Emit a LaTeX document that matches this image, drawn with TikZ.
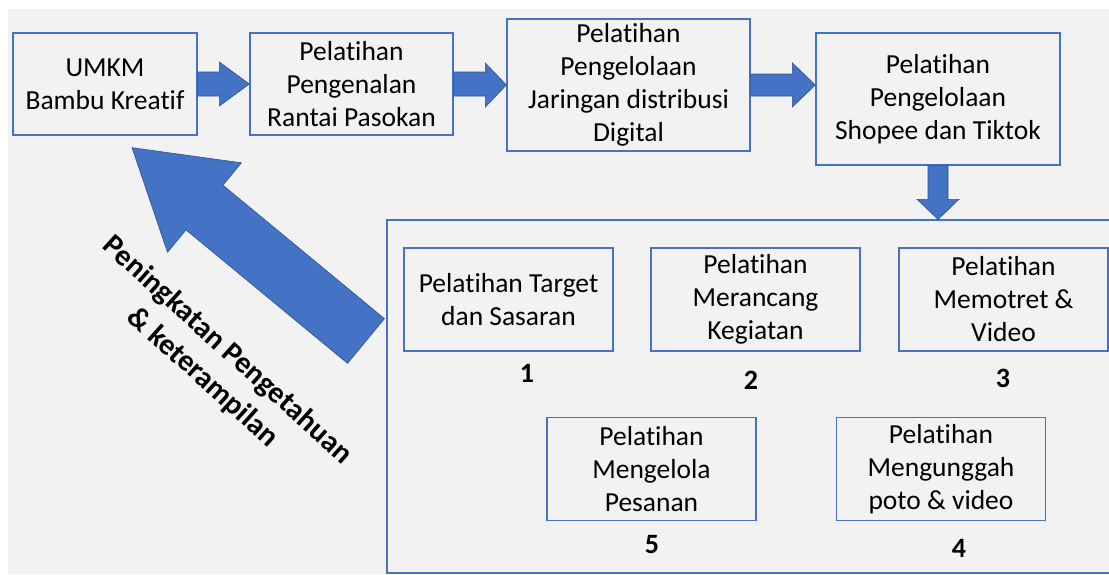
\documentclass[tikz,border=0pt]{standalone}
\usepackage{fontspec}
\setmainfont{Carlito}[Ligatures=NoCommon]
\usetikzlibrary{calc}
\definecolor{biru}{HTML}{4472C4}
\definecolor{birutua}{HTML}{2F528F}
\definecolor{latar}{HTML}{F2F2F2}

\begin{document}
\begin{tikzpicture}[x=1pt, y=-1pt,
  kotak/.style={rectangle, draw=biru, line width=1.3pt, inner sep=0pt,
    align=center, font=\fontsize{27.5}{33}\selectfont},
  atas/.style={kotak, minimum height=102pt},
  pel/.style={kotak, minimum width=209pt, minimum height=103pt},
  nomor/.style={font=\fontsize{28}{30}\selectfont\bfseries},
  panah/.style={fill=biru, draw=birutua, line width=0.6pt},
]

% Background
\useasboundingbox (0,0) rectangle (1109,574);
\fill[latar] (8,9) rectangle (1109,574);

% Top row
\node[atas, minimum width=184pt] (umkm) at (105,84) {UMKM\\Bambu Kreatif};
\node[atas, minimum width=203pt] (kenal) at (351.5,84) {Pelatihan\\Pengenalan\\Rantai Pasokan};
\node[kotak, minimum width=243pt, minimum height=132pt] (distribusi) at (628.5,85) {Pelatihan\\Pengelolaan\\Jaringan distribusi\\Digital};
\node[kotak, minimum width=244pt, minimum height=132pt] (shopee) at (938,99) {Pelatihan\\Pengelolaan\\Shopee dan Tiktok};

% Container of the trainings
\node[kotak, minimum width=730pt, minimum height=353pt] (wadah) at (752,396.5) {};

% Trainings
\node[pel] (target) at (508.5,299.5) {Pelatihan Target\\dan Sasaran};
\node[pel] (rancang) at (755.5,299.5) {Pelatihan\\Merancang\\Kegiatan};
\node[pel] (foto) at (1003.5,299.5) {Pelatihan\\Memotret \&\\Video};
\node[pel] (pesanan) at (651.5,469) {Pelatihan\\Mengelola\\Pesanan};
\node[pel] (unggah) at (941,469) {Pelatihan\\Mengunggah\\poto \& video};

% Numbers
\node[nomor] (n1) at (527,373) {1};
\node[nomor] (n2) at (751,380) {2};
\node[nomor] (n3) at (1003,378) {3};
\node[nomor] (n4) at (959,548) {4};
\node[nomor] (n5) at (652,545) {5};

% Block arrows
\fill[panah] ($(umkm.east)+(0,-12)$) -| ($(kenal.west)+(-30,-22)$) -- (kenal.west)
  -- ($(kenal.west)+(-30,22)$) |- ($(umkm.east)+(0,12)$) -- cycle;
\fill[panah] ($(kenal.east)+(0,-12)$) -| ($(distribusi.west)+(-21,-22)$) -- (distribusi.west)
  -- ($(distribusi.west)+(-21,22)$) |- ($(kenal.east)+(0,12)$) -- cycle;
\coordinate (kanan) at (distribusi.east -| shopee.west);
\fill[panah] ($(distribusi.east)+(0,-11)$) -| ($(kanan)+(-23,-22)$) -- (kanan)
  -- ($(kanan)+(-23,22)$) |- ($(distribusi.east)+(0,11)$) -- cycle;
\coordinate (turun) at (shopee.south |- wadah.north);
\fill[panah] ($(shopee.south)+(-10,0)$) |- ($(turun)+(-21,-20)$) -- (turun)
  -- ($(turun)+(21,-20)$) -| ($(shopee.south)+(10,0)$) -- cycle;

% Big arrow back to UMKM
\coordinate (ekor) at (366,341);
\coordinate (ujung) at ($(umkm.south)+(27,12)$);
\coordinate (leher) at ($(ujung)!94pt!(ekor)$);
\fill[panah] ($(ekor)!29pt!90:(ujung)$) -- ($(leher)!29pt!90:(ujung)$)
  -- ($(leher)!58pt!90:(ujung)$) -- (ujung) -- ($(leher)!58pt!-90:(ujung)$)
  -- ($(leher)!29pt!-90:(ujung)$) -- ($(ekor)!29pt!-90:(ujung)$) -- cycle;
\node[font=\fontsize{30}{37}\selectfont\bfseries, rotate=-42, align=center] (naik) at (215,364) {Peningkatan Pengetahuan\\\& keterampilan};

\end{tikzpicture}
\end{document}
